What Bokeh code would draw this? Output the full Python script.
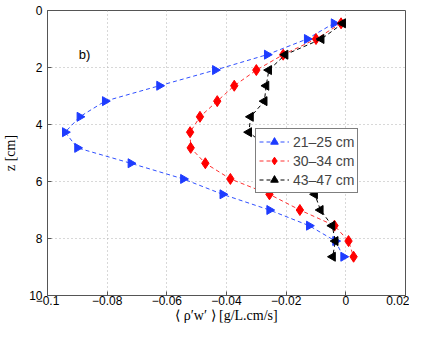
import numpy as np
from bokeh.plotting import figure
from bokeh.models import Range1d, FixedTicker, Legend, LegendItem, Label
from bokeh.embed import file_html
from bokeh.resources import INLINE

# data
z_blue = [0.45, 1.0, 1.55, 2.09, 2.64, 3.18, 3.73, 4.27, 4.82, 5.36, 5.91, 6.45, 7.0, 7.55, 8.09, 8.64]
x_blue = [-0.004, -0.013, -0.0264, -0.0438, -0.0625, -0.0807, -0.0892, -0.0941, -0.090, -0.0721, -0.0545, -0.0413, -0.0256, -0.0123, -0.0035, -0.0008]

z_red = [0.45, 1.0, 1.55, 2.09, 2.64, 3.18, 3.73, 4.27, 4.82, 5.36, 5.91, 6.45, 7.0, 7.55, 8.09, 8.64]
x_red = [-0.0016, -0.010, -0.021, -0.030, -0.0374, -0.0431, -0.0489, -0.0522, -0.052, -0.0471, -0.0387, -0.0256, -0.0154, -0.0038, 0.0009, 0.0026]

z_black = [0.45, 1.0, 1.55, 2.09, 2.64, 3.18, 3.73, 4.27, 4.82, 5.36, 5.91, 6.45, 7.0, 7.55, 8.09, 8.64]
x_black = [-0.001, -0.0082, -0.0203, -0.0258, -0.0267, -0.0273, -0.0319, -0.0325, -0.026, -0.020, -0.014, -0.0104, -0.0085, -0.0046, -0.0035, -0.0044]

labels = ["21\u201325 cm", "30\u201334 cm", "43\u201347 cm"]
x_ticks = [-0.1, -0.08, -0.06, -0.04, -0.02, 0, 0.02]
x_tick_labels = ["\u22120.1", "\u22120.08", "\u22120.06", "\u22120.04", "\u22120.02", "0", "0.02"]
y_ticks = [0, 2, 4, 6, 8, 10]

p = figure(width=409, height=325, output_backend="svg", toolbar_location=None,
           x_range=Range1d(-0.1, 0.02), y_range=Range1d(10, 0),
           min_border_left=40, min_border_right=4, min_border_top=10, min_border_bottom=24)
p.background_fill_color = "white"
p.border_fill_color = "white"
p.outline_line_color = "#555555"
p.outline_line_width = 1

for ax in (p.xaxis[0], p.yaxis[0]):
    ax.axis_line_color = "#555555"
    ax.major_tick_in = 4
    ax.major_tick_out = 0
    ax.minor_tick_line_color = None
    ax.major_tick_line_color = "#555555"
    ax.major_label_text_font = "Liberation Sans"
    ax.major_label_text_font_size = "12px"
    ax.major_label_text_color = "black"
    ax.axis_label_text_font = "Liberation Serif"
    ax.axis_label_text_font_style = "normal"
    ax.axis_label_text_font_size = "14px"
    ax.axis_label_text_color = "black"

p.xaxis.ticker = FixedTicker(ticks=x_ticks)
p.xaxis.major_label_overrides = {t: l for t, l in zip(x_ticks, x_tick_labels)}
p.xaxis.axis_label = "\u27e8 \u03c1\u2032w\u2032 \u27e9 [g/L.cm/s]"
p.xaxis.major_label_standoff = 0
p.xaxis.axis_label_standoff = 0
p.yaxis.ticker = FixedTicker(ticks=y_ticks)
p.yaxis.axis_label = "z [cm]"
p.yaxis.major_label_standoff = 5
p.yaxis.axis_label_standoff = 8

p.grid.grid_line_color = "#b0b0b0"
p.grid.grid_line_dash = "1 3"
p.grid.grid_line_width = 1

r_b_l = p.line(x_blue, z_blue, line_color="#3050ff", line_dash="4 3", line_width=1)
r_b_m = p.scatter(x_blue, z_blue, marker="triangle", angle=-np.pi / 2, size=9,
                  fill_color="#1e3cff", line_color="#1e3cff")
r_r_l = p.line(x_red, z_red, line_color="#ff3030", line_dash="4 3", line_width=1)
r_r_m = p.scatter(x_red, z_red, marker="diamond", size=11,
                  fill_color="#ff0000", line_color="#ff0000")
r_k_l = p.line(x_black, z_black, line_color="black", line_dash="4 3", line_width=1)
r_k_m = p.scatter(x_black, z_black, marker="triangle", angle=np.pi / 2, size=9,
                  fill_color="black", line_color="black")

legend = Legend(items=[LegendItem(label=labels[0], renderers=[r_b_l, r_b_m]),
                       LegendItem(label=labels[1], renderers=[r_r_l, r_r_m]),
                       LegendItem(label=labels[2], renderers=[r_k_l, r_k_m])],
                location=(208, 102))
legend.label_text_font = "Liberation Sans"
legend.label_text_font_size = "14px"
legend.border_line_color = "black"
legend.border_line_width = 1
legend.background_fill_color = "white"
legend.background_fill_alpha = 1.0
legend.padding = 3
legend.spacing = 0
legend.margin = 0
legend.glyph_width = 30
legend.glyph_height = 19
legend.label_height = 19
legend.label_standoff = 4
p.add_layout(legend, "center")

p.add_layout(Label(x=-0.0895, y=1.55, text="b)", text_font="Liberation Sans",
                   text_font_size="13px", text_baseline="middle", text_color="black"))

open("out.html", "w").write(file_html(p, INLINE))
